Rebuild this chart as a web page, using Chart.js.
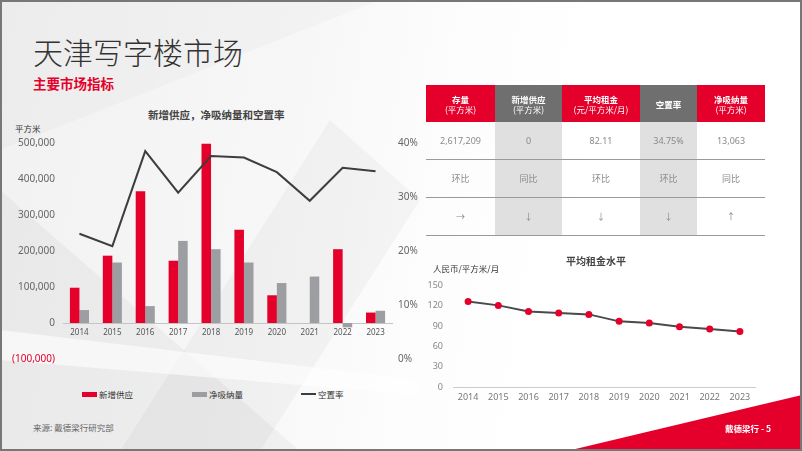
<!DOCTYPE html>
<html>
<head>
<meta charset="utf-8">
<script src="https://cdn.jsdelivr.net/npm/chart.js@4.4.0/dist/chart.umd.min.js"></script>
<style>
  body { margin: 0; background: #fff; }
  #slide {
    position: relative; width: 802px; height: 451px; overflow: hidden;
    background: linear-gradient(100deg, #f1f1f1 0%, #f7f7f7 35%, #fdfdfd 55%, #ffffff 70%);
    font-family: "Noto Sans", "Noto Sans CJK SC", sans-serif;
  }
  .facet { position: absolute; inset: 0; }
  .f1 { background: rgba(0,0,0,0.035); clip-path: polygon(0 190px, 300px 451px, 0 451px); }
  .f2 { background: rgba(0,0,0,0.03); clip-path: polygon(120px 451px, 330px 120px, 420px 200px, 260px 451px); }
  .f3 { background: rgba(255,255,255,0.6); clip-path: polygon(0 330px, 420px 380px, 420px 395px, 0 360px); }
  .f4 { background: rgba(0,0,0,0.02); clip-path: polygon(0 0, 380px 0, 0 150px); }
  .frame { position: absolute; inset: 0; border: 2px solid #777; box-sizing: border-box; z-index: 20; pointer-events: none; }
  .abs { position: absolute; white-space: nowrap; }
  #title { left: 33px; top: 31px; font-size: 30px; color: #333; font-family: "Noto Sans CJK SC", sans-serif; font-weight: 300; line-height: 40px; }
  #subtitle { left: 33px; top: 74px; font-size: 13.5px; color: #e4002b; font-weight: bold; font-family: "Noto Sans CJK SC", sans-serif; line-height: 18px; }
  #ctitle1 { left: 148px; top: 108px; font-size: 10.5px; color: #444; font-weight: bold; font-family: "Noto Sans CJK SC", sans-serif; line-height: 14px; }
  #unit1 { left: 15px; top: 122px; font-size: 8.5px; color: #333; font-family: "Noto Sans CJK SC", sans-serif; line-height: 12px; }
  #ctitle2 { left: 566px; top: 254px; font-size: 10px; color: #444; font-weight: bold; font-family: "Noto Sans CJK SC", sans-serif; line-height: 14px; }
  #unit2 { left: 433px; top: 262px; font-size: 8.5px; color: #333; font-family: "Noto Sans CJK SC", sans-serif; line-height: 12px; }
  #source { left: 33px; top: 421px; font-size: 8.5px; color: #666; font-family: "Noto Sans CJK SC", sans-serif; line-height: 12px; }
  .leg { top: 388px; font-size: 8.5px; color: #333; font-family: "Noto Sans CJK SC", sans-serif; line-height: 12px; display: flex; align-items: center; }
  .leg i { display: inline-block; width: 15px; height: 5px; margin-right: 2px; }
  .leg i.ln { height: 2px; background: #3d3d3d; }
  #tri { position: absolute; inset: 0; background: #e4002b; clip-path: polygon(567px 451px, 802px 395px, 802px 451px); }
  #page { left: 725px; top: 422px; font-size: 8.5px; color: #fff; font-weight: bold; font-family: "Noto Sans CJK SC", sans-serif; line-height: 12px; }
  #c1wrap { position: absolute; left: 0; top: 127px; }
  #c2wrap { position: absolute; left: 410px; top: 270px; }
  table { position: absolute; left: 426px; top: 85px; border-collapse: collapse; table-layout: fixed; }
  th { color: #fff; font-size: 8.5px; font-weight: normal; height: 37px; padding: 0; line-height: 10px; font-family: "Noto Sans CJK SC", sans-serif; }
  th b { font-weight: bold; }
  th.r { background: #e4002b; }
  th.g { background: #6f6f6f; }
  td { text-align: center; color: #8a8a8a; font-size: 9px; padding: 0; height: 37px; border-bottom: 1px solid #9a9a9a; font-family: "Noto Sans", "Noto Sans CJK SC", sans-serif; }
  td.g { background: #e0e0e0; }
</style>
</head>
<body>
<div id="slide">
  <div class="facet f4"></div>
  <div class="facet f1"></div>
  <div class="facet f2"></div>
  <div class="facet f3"></div>

  <div class="abs" id="title">天津写字楼市场</div>
  <div class="abs" id="subtitle">主要市场指标</div>
  <div class="abs" id="ctitle1">新增供应，净吸纳量和空置率</div>
  <div class="abs" id="unit1">平方米</div>

  <div id="c1wrap"><canvas id="combo" width="430" height="248"></canvas></div>

  <div class="abs leg" style="left:82px"><i style="background:#e4002b"></i>新增供应</div>
  <div class="abs leg" style="left:192px"><i style="background:#9d9ea1"></i>净吸纳量</div>
  <div class="abs leg" style="left:301px"><i class="ln"></i>空置率</div>

  <div class="abs" id="source">来源: 戴德梁行研究部</div>

  <table>
    <colgroup><col style="width:69px"><col style="width:67px"><col style="width:78px"><col style="width:57px"><col style="width:68px"></colgroup>
    <tr>
      <th class="r"><b>存量</b><br>(平方米)</th>
      <th class="g"><b>新增供应</b><br>(平方米)</th>
      <th class="r"><b>平均租金</b><br>(元/平方米/月)</th>
      <th class="g"><b>空置率</b></th>
      <th class="r"><b>净吸纳量</b><br>(平方米)</th>
    </tr>
    <tr><td>2,617,209</td><td class="g">0</td><td>82.11</td><td class="g">34.75%</td><td>13,063</td></tr>
    <tr style="height:38px"><td>环比</td><td class="g">同比</td><td>环比</td><td class="g">环比</td><td>同比</td></tr>
    <tr><td>→</td><td class="g">↓</td><td>↓</td><td class="g">↓</td><td>↑</td></tr>
  </table>

  <div class="abs" id="ctitle2">平均租金水平</div>
  <div class="abs" id="unit2">人民币/平方米/月</div>
  <div id="c2wrap"><canvas id="rent" width="360" height="137"></canvas></div>

  <div id="tri"></div>
  <div class="abs" id="page">戴德梁行 - 5</div>
  <div class="frame"></div>
</div>

<script>
const years = ["2014", "2015", "2016", "2017", "2018", "2019", "2020", "2021", "2022", "2023"];
const newSupply = [98000, 187000, 366000, 173000, 498000, 259000, 77000, 0, 205000, 29000];
const netAbsorption = [36000, 168000, 47000, 228000, 205000, 168000, 111000, 129000, -12000, 34000];
const vacancyRate = [23.2, 20.9, 38.5, 30.8, 37.6, 37.3, 34.6, 29.3, 35.4, 34.75];
const avgRent = [126.4, 120.5, 111.6, 109.2, 107.2, 96.9, 94.4, 89.0, 85.6, 82.11];

const RED = "#e4002b";
const GREY = "#9d9ea1";
const DARK = "#3d3d3d";

Chart.defaults.font.family = '"Noto Sans", "Noto Sans CJK SC", sans-serif';
Chart.defaults.color = "#666";

const fmt = (v) => Math.abs(v).toLocaleString("en-US");

new Chart(document.getElementById("combo"), {
  type: "bar",
  data: {
    labels: years,
    datasets: [
      {
        type: "line",
        label: "空置率",
        data: vacancyRate,
        yAxisID: "y1",
        borderColor: DARK,
        borderWidth: 2,
        pointRadius: 0,
        tension: 0,
        order: 0,
      },
      {
        label: "新增供应",
        data: newSupply,
        backgroundColor: RED,
        yAxisID: "y",
        categoryPercentage: 0.58,
        barPercentage: 1.0,
        order: 1,
      },
      {
        label: "净吸纳量",
        data: netAbsorption,
        backgroundColor: GREY,
        yAxisID: "y",
        categoryPercentage: 0.58,
        barPercentage: 1.0,
        order: 1,
      },
    ],
  },
  options: {
    responsive: false,
    animation: false,
    // chart area runs from y=143 to y=359 on the page
    layout: { padding: { top: 16, bottom: 16, left: 0, right: 0 } },
    plugins: { legend: { display: false }, tooltip: { enabled: false } },
    scales: {
      x: {
        position: { y: 0 },
        grid: { display: false, drawTicks: false },
        border: { display: true, color: "#c4c4c4", width: 1 },
        ticks: { font: { size: 8 }, color: "#555", padding: 5, maxRotation: 0 },
      },
      y: {
        position: "left",
        min: -100000,
        max: 500000,
        grid: { display: false, drawTicks: false },
        border: { display: false },
        ticks: {
          stepSize: 100000,
          padding: 8,
          font: { size: 10 },
          color: (c) => (c.tick && c.tick.value < 0 ? RED : "#666"),
          callback: (v) => (v < 0 ? "(" + fmt(v) + ")" : fmt(v)),
        },
        afterFit: (s) => { s.width = 63; },
      },
      y1: {
        position: "right",
        min: 0,
        max: 40,
        grid: { display: false, drawTicks: false },
        border: { display: false },
        ticks: {
          stepSize: 10,
          padding: 6,
          font: { size: 10 },
          color: "#666",
          callback: (v) => v + "%",
        },
        afterFit: (s) => { s.width = 38; },
      },
    },
  },
});

new Chart(document.getElementById("rent"), {
  type: "line",
  data: {
    labels: years,
    datasets: [
      {
        label: "平均租金",
        data: avgRent,
        borderColor: "#4a4a4a",
        borderWidth: 2,
        pointRadius: 3.5,
        pointBackgroundColor: RED,
        pointBorderWidth: 0,
        tension: 0,
      },
    ],
  },
  options: {
    responsive: false,
    animation: false,
    layout: { padding: { top: 15, right: 15, bottom: 0, left: 0 } },
    plugins: { legend: { display: false }, tooltip: { enabled: false } },
    scales: {
      x: {
        offset: true,
        grid: { display: false, drawTicks: false },
        border: { display: true, color: "#cccccc", width: 1 },
        ticks: { font: { size: 9 }, color: "#777", padding: 5, maxRotation: 0 },
        afterFit: (s) => { s.height = 20; },
      },
      y: {
        min: 0,
        max: 150,
        grid: { display: false, drawTicks: false },
        border: { display: false },
        ticks: { stepSize: 30, font: { size: 9 }, color: "#888", padding: 10 },
        afterFit: (s) => { s.width = 43; },
      },
    },
  },
});
</script>
</body>
</html>
